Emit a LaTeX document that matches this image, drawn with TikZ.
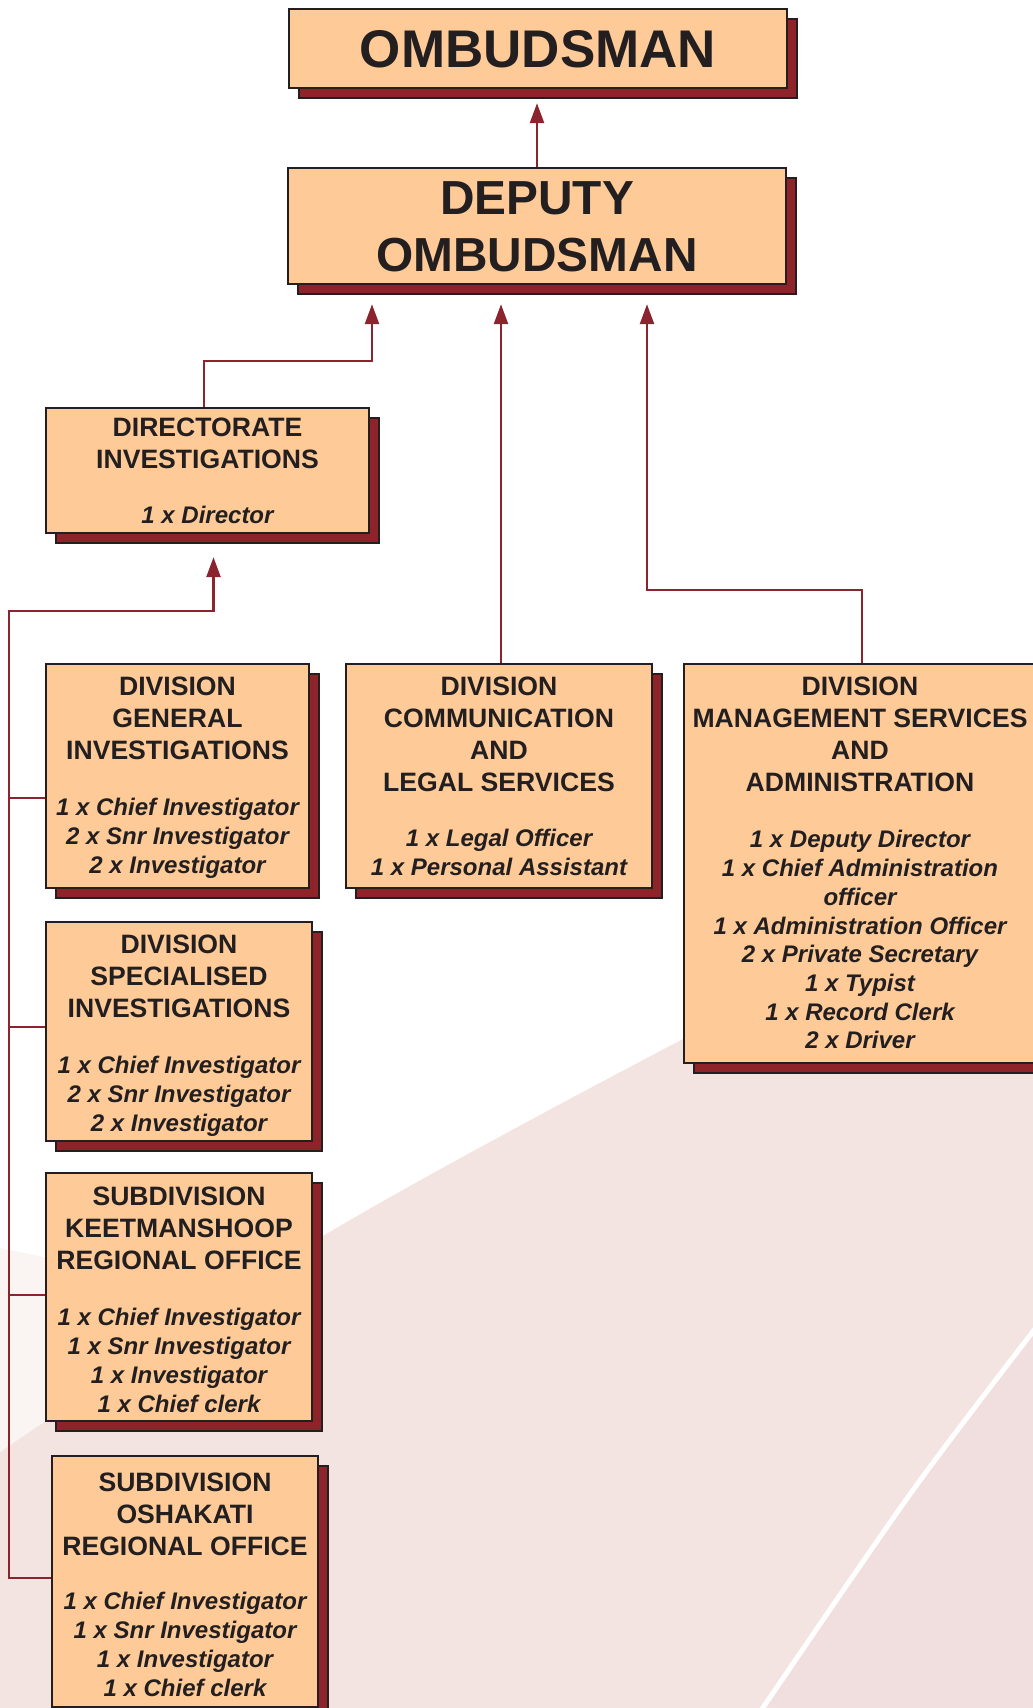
\documentclass[tikz,border=0pt]{standalone}
\usepackage{fontspec}
\setmainfont{Liberation Sans}
\usetikzlibrary{arrows.meta,calc,shadows}
\definecolor{peach}{RGB}{254,203,152}
\definecolor{ink}{RGB}{35,31,32}
\definecolor{shred}{RGB}{142,36,41}
\definecolor{linered}{RGB}{140,36,46}
\definecolor{bgpink}{RGB}{243,228,225}
\definecolor{bgpinkB}{RGB}{241,223,223}
\definecolor{bglight}{RGB}{250,245,243}
\begin{document}
\begin{tikzpicture}[x=1pt,y=-1pt,
  orgbox/.style={rectangle, draw=ink, line width=2.4pt, fill=peach, inner sep=0pt,
     general shadow={shadow xshift=10pt, shadow yshift=-10pt, fill=shred, draw=ink, line width=2.4pt}},
  ttl/.style={inner sep=0pt, align=center, text=ink, font=\fontsize{26.6}{32.3}\selectfont\bfseries},
  stf/.style={inner sep=0pt, align=center, text=ink, font=\fontsize{24}{28.7}\selectfont\bfseries\itshape},
  conn/.style={draw=linered, line width=2.6pt},
  arr/.style={conn, -{Triangle[width=14pt,length=20pt]}},
]
\useasboundingbox (0,0) rectangle (1033,1708);
\clip (0,0) rectangle (1033,1708);
% background
\fill[white] (0,0) rectangle (1033,1708);
\fill[bglight] (-5,1247) -- (240,1297) -- (240,1500) -- (-5,1500) -- cycle;
\fill[bgpink] plot[smooth] coordinates {(-5,1456) (43,1423) (323,1236) (683,1039) (1040,860)} -- (1040,1715) -- (-5,1715) -- cycle;
\fill[bgpinkB] plot[smooth] coordinates {(1045,1316) (913,1490) (758,1715)} -- (1045,1715) -- cycle;
\draw[white, line width=5pt] plot[smooth] coordinates {(1045,1316) (913,1490) (758,1715)};

% boxes
\node[orgbox, minimum width=498pt, minimum height=79pt] (omb) at (538,48.5) {};
\node[inner sep=0pt, text=ink, font=\fontsize{53}{60}\selectfont\bfseries, anchor=north] (omb-t) at ([yshift=-22pt]omb.north) {OMBUDSMAN};

\node[orgbox, minimum width=498pt, minimum height=116pt] (dep) at (537,226) {};
\node[inner sep=0pt, align=center, text=ink, font=\fontsize{47.8}{57}\selectfont\bfseries, anchor=north] (dep-t) at ([yshift=-14.5pt]dep.north) {DEPUTY\\OMBUDSMAN};

\node[orgbox, minimum width=323pt, minimum height=125pt] (dir) at (207.5,470.5) {};
\node[ttl, anchor=north] (dir-t) at ([yshift=-10.5pt]dir.north) {DIRECTORATE\\INVESTIGATIONS};
\node[stf, anchor=north] (dir-s) at ([yshift=-99.5pt]dir.north) {1 x Director};

\node[orgbox, minimum width=263pt, minimum height=224pt] (gen) at (177.5,776) {};
\node[ttl, anchor=north] (gen-t) at ([yshift=-13.5pt]gen.north) {DIVISION\\GENERAL\\INVESTIGATIONS};
\node[stf, anchor=north] (gen-s) at ([yshift=-135.5pt]gen.north) {1 x Chief Investigator\\2 x Snr Investigator\\2 x Investigator};

\node[orgbox, minimum width=306pt, minimum height=224pt] (comm) at (499,776) {};
\node[ttl, anchor=north] (comm-t) at ([yshift=-13.5pt]comm.north) {DIVISION\\COMMUNICATION\\AND\\LEGAL SERVICES};
\node[stf, anchor=north] (comm-s) at ([yshift=-166.5pt]comm.north) {1 x Legal Officer\\1 x Personal Assistant};

\node[orgbox, minimum width=352pt, minimum height=399pt] (mgmt) at (860,863.5) {};
\node[ttl, anchor=north] (mgmt-t) at ([yshift=-13.5pt]mgmt.north) {DIVISION\\MANAGEMENT SERVICES\\AND\\ADMINISTRATION};
\node[stf, anchor=north] (mgmt-s) at ([yshift=-167.5pt]mgmt.north) {1 x Deputy Director\\1 x Chief Administration\\officer\\1 x Administration Officer\\2 x Private Secretary\\1 x Typist\\1 x Record Clerk\\2 x Driver};

\node[orgbox, minimum width=266pt, minimum height=219pt] (spec) at (179,1031.5) {};
\node[ttl, anchor=north] (spec-t) at ([yshift=-13.5pt]spec.north) {DIVISION\\SPECIALISED\\INVESTIGATIONS};
\node[stf, anchor=north] (spec-s) at ([yshift=-135.5pt]spec.north) {1 x Chief Investigator\\2 x Snr Investigator\\2 x Investigator};

\node[orgbox, minimum width=266pt, minimum height=248pt] (kee) at (179,1297) {};
\node[ttl, anchor=north] (kee-t) at ([yshift=-14.5pt]kee.north) {SUBDIVISION\\KEETMANSHOOP\\REGIONAL OFFICE};
\node[stf, anchor=north] (kee-s) at ([yshift=-136.5pt]kee.north) {1 x Chief Investigator\\1 x Snr Investigator\\1 x Investigator\\1 x Chief clerk};

\node[orgbox, minimum width=266pt, minimum height=251pt] (osh) at (185,1581.5) {};
\node[ttl, anchor=north] (osh-t) at ([yshift=-17.5pt]osh.north) {SUBDIVISION\\OSHAKATI\\REGIONAL OFFICE};
\node[stf, anchor=north] (osh-s) at ([yshift=-137.5pt]osh.north) {1 x Chief Investigator\\1 x Snr Investigator\\1 x Investigator\\1 x Chief clerk};

% connectors
\coordinate (omb-in) at ($(omb.south)+(0,14)$);
\draw[arr] (dep.north) -- (dep.north |- omb-in);

\coordinate (dep-in) at ($(dep.south)+(0,19)$);
\coordinate (dir-bend) at (372,361);
\draw[arr] ($(dir.north)+(-3.5,0)$) |- (dir-bend) -- (dir-bend |- dep-in);
\coordinate (comm-out) at ($(comm.north)+(2,0)$);
\draw[arr] (comm-out) -- (comm-out |- dep-in);
\coordinate (mgmt-out) at ($(mgmt.north)+(2,0)$);
\coordinate (mg-bend) at (647,590);
\draw[arr] (mgmt-out) |- (mg-bend) -- (mg-bend |- dep-in);

\coordinate (dir-in) at ($(dir.south)+(6,23)$);
\coordinate (bus-top) at (9,611);
\coordinate (osh-br) at ($(osh.west)+(0,-3.5)$);
\coordinate (gen-br) at ($(gen.west)+(0,22)$);
\coordinate (spec-br) at ($(spec.west)+(0,-4.5)$);
\coordinate (kee-br) at ($(kee.west)+(0,-2)$);
\draw[arr] (osh-br) -| (bus-top) -| (dir-in);
\draw[conn] (gen-br) -- (gen-br -| bus-top);
\draw[conn] (spec-br) -- (spec-br -| bus-top);
\draw[conn] (kee-br) -- (kee-br -| bus-top);
\end{tikzpicture}
\end{document}
